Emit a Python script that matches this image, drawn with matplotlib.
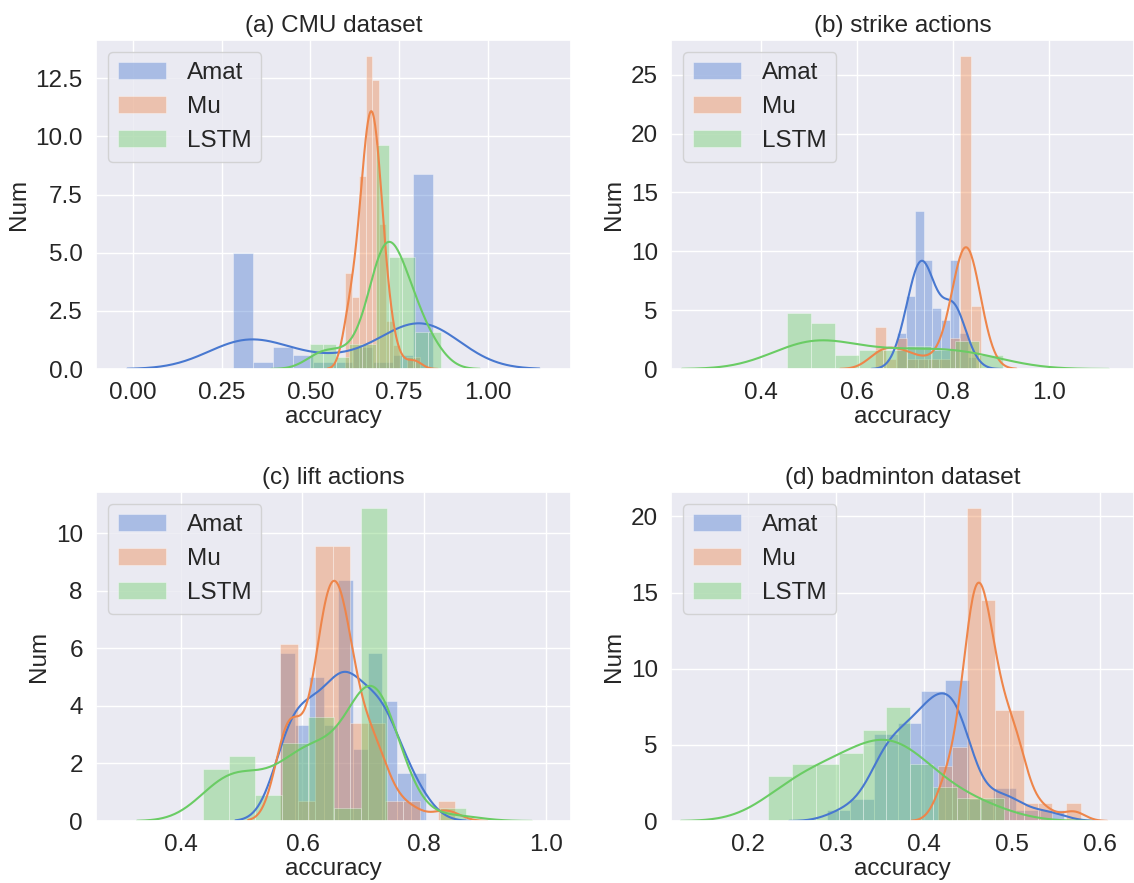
import matplotlib
matplotlib.use("Agg")
import matplotlib.pyplot as plt
import numpy as np
import seaborn as sns

sns.set_theme(style="darkgrid", palette="muted")
plt.rcParams['font.family'] = ['Liberation Sans', 'DejaVu Sans']

methods = ["Amat", "Mu", "LSTM"]
colors = sns.color_palette("muted")[:3]
titles = ["(a) CMU dataset", "(b) strike actions", "(c) lift actions", "(d) badminton dataset"]

# histogram bins: (first edge, last edge) per method, and counts per bin
cmu_bins = [(0.282, 0.847), (0.5975, 0.8098), (0.500, 0.867)]
cmu_counts = [[16, 1, 3, 2, 1, 1, 3, 1, 2, 27],
              [8, 6, 16, 26, 24, 12, 4, 2, 0, 1, 1],
              [2, 2, 1, 2, 2, 18, 9, 9, 3, 3]]

strike_bins = [(0.684, 0.8487), (0.638, 0.859), (0.456, 0.9042)]
strike_counts = [[3, 6, 13, 9, 5, 4, 9, 3, 1],
                 [4, 1, 3, 1, 1, 1, 1, 3, 30, 6],
                 [12, 10, 3, 4, 4, 5, 4, 6, 3]]

lift_bins = [(0.5635, 0.8025), (0.5635, 0.8505), (0.4365, 0.8685)]
lift_counts = [[7, 4, 6, 4, 10, 3, 7, 5, 2, 2],
               [9, 1, 14, 14, 5, 5, 1, 1, 0, 1],
               [4, 5, 2, 6, 8, 1, 24, 0, 0, 1]]

badminton_bins = [(0.289, 0.559), (0.4162, 0.5782), (0.2229, 0.4909)]
badminton_counts = [[1, 2, 8, 9, 12, 13, 2, 3, 1, 1],
                    [3, 4, 17, 12, 6, 6, 1, 1, 0, 1],
                    [4, 5, 5, 6, 8, 10, 5, 3, 2, 2]]

panels = [(cmu_bins, cmu_counts), (strike_bins, strike_counts),
          (lift_bins, lift_counts), (badminton_bins, badminton_counts)]

# kde smoothing per panel / method (the raw points sit at bin centres here)
bw_adjust = [[1.08, 1.4, 1.25], [1.2, 1.0, 1.3], [1.0, 0.9, 1.0], [0.85, 1.0, 1.3]]

xlims = [(-0.105, 1.235), (0.214, 1.176), (0.261, 1.041), (0.112, 0.639)]
xticks = [[0, 0.25, 0.5, 0.75, 1.0], [0.4, 0.6, 0.8, 1.0], [0.4, 0.6, 0.8, 1.0],
          [0.2, 0.3, 0.4, 0.5, 0.6]]

W, H = 1134, 883
boxes = [(96, 40, 571, 369), (671, 40, 1134, 369), (96, 492, 571, 821), (671, 492, 1134, 821)]
fs = 17.5

fig = plt.figure(figsize=(W / 100, H / 100), dpi=100)

for i, (bins, counts) in enumerate(panels):
    l, t, r, b = boxes[i]
    ax = fig.add_axes([l / W, 1 - b / H, (r - l) / W, (b - t) / H])
    for j, (name, c, (lo, hi), cnt) in enumerate(zip(methods, colors, bins, counts)):
        edges = np.linspace(lo, hi, len(cnt) + 1)
        centers = (edges[:-1] + edges[1:]) / 2
        samples = np.repeat(centers, cnt)
        ax.hist(samples, bins=edges, density=True, alpha=0.4, color=c, label=name,
                edgecolor="white", linewidth=0.6)
        sns.kdeplot(x=samples, ax=ax, color=c, linewidth=1.5, bw_adjust=bw_adjust[i][j])
    ax.set_ylim(bottom=0)
    ax.set_xlim(*xlims[i])
    ax.set_xticks(xticks[i])
    ax.set_title(titles[i], fontsize=fs)
    ax.set_xlabel("accuracy", fontsize=fs, labelpad=1)
    ax.set_ylabel("Num", fontsize=fs)
    ax.tick_params(labelsize=fs)
    ax.legend(loc="upper left", fontsize=fs, handletextpad=0.85)

fig.savefig("out.png", dpi=100)
